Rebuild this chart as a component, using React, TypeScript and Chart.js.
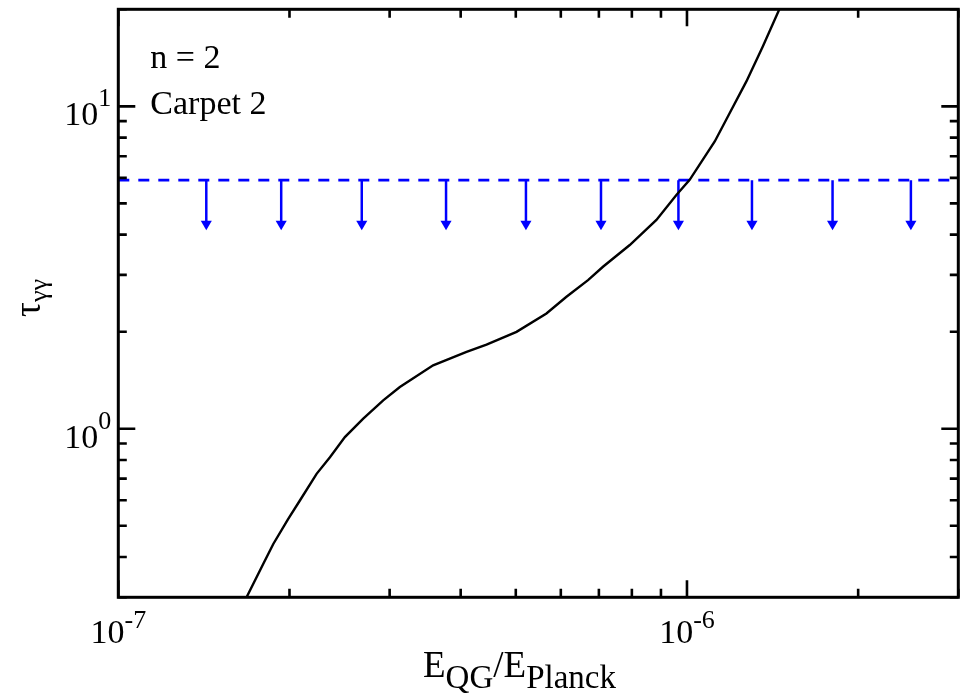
import React, { useEffect, useRef } from "react";
import { Chart, registerables } from "chart.js";

Chart.register(...registerables);

// ---- data ----
const X_MIN = 1e-7;
const X_MAX = 3e-6;
const Y_MIN = 0.3;
const Y_MAX = 20;

const CURVE_X = [
  1.652e-7, 1.681e-7, 1.798e-7, 1.873e-7, 1.99e-7, 2.086e-7, 2.232e-7, 2.356e-7,
  2.503e-7, 2.696e-7, 2.923e-7, 3.127e-7, 3.578e-7, 4.096e-7, 4.441e-7, 5.015e-7,
  5.661e-7, 6.139e-7, 6.699e-7, 7.117e-7, 7.932e-7, 8.836e-7, 9.58e-7, 1.011e-6,
  1.119e-6, 1.189e-6, 1.272e-6, 1.36e-6, 1.451e-6, 1.489e-6,
];
const CURVE_Y = [
  0.28, 0.3, 0.3805, 0.439, 0.525, 0.599, 0.7245, 0.816,
  0.942, 1.074, 1.224, 1.347, 1.573, 1.73, 1.824, 1.997,
  2.278, 2.566, 2.891, 3.18, 3.714, 4.442, 5.311, 5.914,
  7.781, 9.533, 11.95, 15.36, 19.87, 22,
];

const LIMIT_Y = 5.9;
const LIMIT_X = [1e-7, 3e-6];
const ARROW_X = [
  1.428e-7, 1.934e-7, 2.68e-7, 3.77e-7, 5.21e-7, 7.06e-7, 9.66e-7, 1.301e-6,
  1.803e-6, 2.476e-6,
];
const ARROW_SHAFT_END = 4.4;
const ARROW_HEAD_Y = 4.32;

const X_MAJOR = [1e-7, 1e-6];
const X_MAJOR_EXP = ["-7", "-6"];
const X_MINOR = [2e-7, 3e-7, 4e-7, 5e-7, 6e-7, 7e-7, 8e-7, 9e-7, 2e-6, 3e-6];
const Y_MAJOR = [1, 10];
const Y_MAJOR_EXP = ["0", "1"];
const Y_MINOR = [0.3, 0.4, 0.5, 0.6, 0.7, 0.8, 0.9, 2, 3, 4, 5, 6, 7, 8, 9, 20];

const ANNOTATIONS = ["n = 2", "Carpet 2"];

// ---- styles ----
const FONT = '"Liberation Serif", "Times New Roman", serif';
const MAIN = 34;
const SUP = 26;
const TITLE_MAIN = 37;
const TITLE_SUB = 33;
const BLUE = "#0000ff";

type Seg = { t: string; size: number; dy: number };

function drawRich(ctx: CanvasRenderingContext2D, segs: Seg[], x: number, y: number, align: "left" | "center" | "right") {
  let total = 0;
  const widths = segs.map((s) => {
    ctx.font = `${s.size}px ${FONT}`;
    const w = ctx.measureText(s.t).width;
    total += w;
    return w;
  });
  let cx = align === "left" ? x : align === "center" ? x - total / 2 : x - total;
  ctx.textAlign = "left";
  ctx.textBaseline = "alphabetic";
  segs.forEach((s, i) => {
    ctx.font = `${s.size}px ${FONT}`;
    ctx.fillText(s.t, cx, y + s.dy);
    cx += widths[i];
  });
}

const framePlugin = {
  id: "frame",
  afterDraw(chart: any) {
    const { ctx, chartArea: a, scales } = chart;
    const xs = scales.x;
    const ys = scales.y;
    ctx.save();
    ctx.strokeStyle = "#000";
    ctx.fillStyle = "#000";
    ctx.lineWidth = 2.6;
    ctx.lineCap = "butt";
    // ticks
    const MAJ = 17;
    const MIN = 8.5;
    const xt = (v: number, len: number) => {
      const px = xs.getPixelForValue(v);
      ctx.beginPath();
      ctx.moveTo(px, a.bottom);
      ctx.lineTo(px, a.bottom - len);
      ctx.moveTo(px, a.top);
      ctx.lineTo(px, a.top + len);
      ctx.stroke();
    };
    const yt = (v: number, len: number) => {
      const py = ys.getPixelForValue(v);
      ctx.beginPath();
      ctx.moveTo(a.left, py);
      ctx.lineTo(a.left + len, py);
      ctx.moveTo(a.right, py);
      ctx.lineTo(a.right - len, py);
      ctx.stroke();
    };
    X_MAJOR.forEach((v) => xt(v, MAJ));
    X_MINOR.forEach((v) => xt(v, MIN));
    Y_MAJOR.forEach((v) => yt(v, MAJ));
    Y_MINOR.forEach((v) => yt(v, MIN));
    // frame
    ctx.lineWidth = 3;
    ctx.strokeRect(a.left, a.top, a.right - a.left, a.bottom - a.top);

    // x tick labels
    X_MAJOR.forEach((v, i) => {
      const px = xs.getPixelForValue(v);
      drawRich(ctx, [
        { t: "10", size: MAIN, dy: 0 },
        { t: X_MAJOR_EXP[i], size: SUP, dy: -15 },
      ], px, a.bottom + 46, "center");
    });
    // y tick labels
    Y_MAJOR.forEach((v, i) => {
      const py = ys.getPixelForValue(v);
      drawRich(ctx, [
        { t: "10", size: MAIN, dy: 0 },
        { t: Y_MAJOR_EXP[i], size: SUP, dy: -19 },
      ], a.left - 7, py + 19, "right");
    });
    // x title
    drawRich(ctx, [
      { t: "E", size: TITLE_MAIN, dy: 0 },
      { t: "QG", size: TITLE_SUB, dy: 11 },
      { t: "/E", size: TITLE_MAIN, dy: 0 },
      { t: "Planck", size: TITLE_SUB, dy: 11 },
    ], 423, 677, "left");
    // y title
    ctx.save();
    ctx.translate(40, 298);
    ctx.rotate(-Math.PI / 2);
    drawRich(ctx, [
      { t: "\u03c4", size: TITLE_MAIN, dy: 0 },
      { t: "\u03b3\u03b3", size: SUP, dy: 7 },
    ], 0, 0, "center");
    ctx.restore();
    // annotations
    ctx.font = `${MAIN}px ${FONT}`;
    ctx.textAlign = "left";
    ctx.fillText(ANNOTATIONS[0], a.left + 32, 68);
    ctx.fillText(ANNOTATIONS[1], a.left + 32, 114);
    ctx.restore();
  },
};

export default function App() {
  const ref = useRef<HTMLCanvasElement | null>(null);
  useEffect(() => {
    if (!ref.current) return;
    const curve = CURVE_X.map((x, i) => ({ x, y: CURVE_Y[i] }));
    const limit = LIMIT_X.map((x) => ({ x, y: LIMIT_Y }));
    const shafts = ARROW_X.map((x) => ({
      type: "line" as const,
      data: [{ x, y: LIMIT_Y }, { x, y: ARROW_SHAFT_END }],
      borderColor: BLUE,
      borderWidth: 2.5,
      pointRadius: 0,
      fill: false,
    }));
    const chart = new Chart(ref.current, {
      type: "line",
      data: {
        datasets: [
          {
            data: curve,
            borderColor: "#000",
            borderWidth: 2.4,
            pointRadius: 0,
            tension: 0,
            fill: false,
          },
          {
            data: limit,
            borderColor: BLUE,
            borderWidth: 2.7,
            borderDash: [11, 9],
            pointRadius: 0,
            fill: false,
          },
          ...shafts,
          {
            type: "scatter" as const,
            data: ARROW_X.map((x) => ({ x, y: ARROW_HEAD_Y })),
            pointStyle: "triangle",
            rotation: 180,
            pointRadius: 6.4,
            backgroundColor: BLUE,
            borderWidth: 0,
            showLine: false,
          },
        ] as any,
      },
      options: {
        animation: false,
        responsive: false,
        devicePixelRatio: 1,
        layout: { padding: { left: 118.3, right: 6.7, top: 9.3, bottom: 98.7 } },
        plugins: { legend: { display: false }, tooltip: { enabled: false } },
        scales: {
          x: { type: "logarithmic", min: X_MIN, max: X_MAX, display: false },
          y: { type: "logarithmic", min: Y_MIN, max: Y_MAX, display: false },
        },
      },
      plugins: [framePlugin],
    });
    return () => chart.destroy();
  }, []);
  return (
    <div style={{ position: "fixed", left: 0, top: 0, width: 965, height: 696, background: "#fff" }}>
      <canvas ref={ref} width={965} height={696} style={{ display: "block" }} />
    </div>
  );
}
